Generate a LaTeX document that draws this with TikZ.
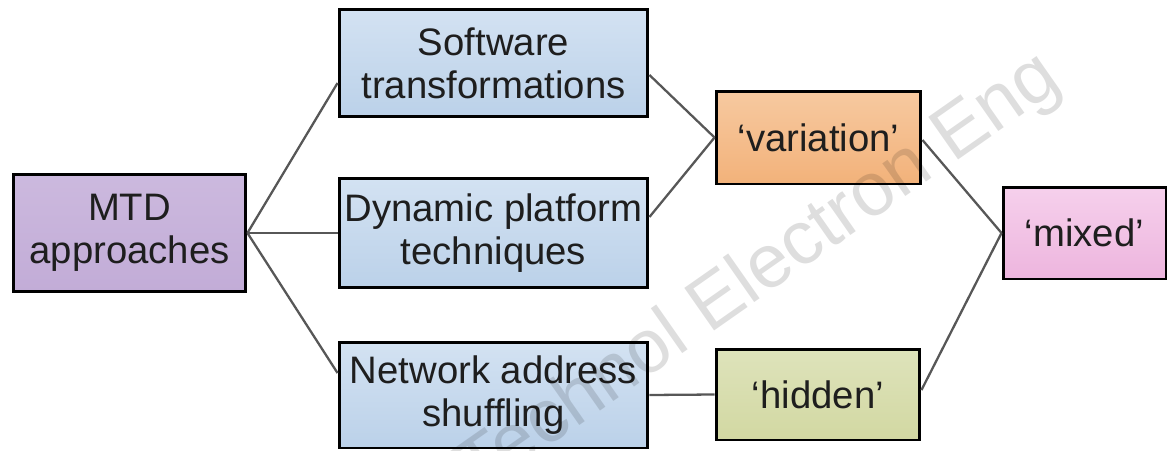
\documentclass[tikz,border=0pt]{standalone}
\usepackage{fontspec}
\setmainfont{Liberation Sans}
\usetikzlibrary{calc}

\definecolor{inkc}{HTML}{1E1E1E}
\definecolor{linkc}{HTML}{575757}
\definecolor{purpleTop}{HTML}{CCB9DE}
\definecolor{purpleBot}{HTML}{C2ACD7}
\definecolor{blueTop}{HTML}{D3E2F2}
\definecolor{blueBot}{HTML}{BBD1E9}
\definecolor{orangeTop}{HTML}{F7C9A0}
\definecolor{orangeBot}{HTML}{F2B27A}
\definecolor{greenTop}{HTML}{DEE3BB}
\definecolor{greenBot}{HTML}{D2D8A2}
\definecolor{pinkTop}{HTML}{F6D0EC}
\definecolor{pinkBot}{HTML}{EDB5DE}

\tikzset{
  box/.style={draw=black, line width=1.7pt, rectangle, inner sep=0pt,
    align=center, text=inkc,
    font=\fontsize{21.8pt}{24.4pt}\selectfont},
  purplebox/.style={box, top color=purpleTop, bottom color=purpleBot},
  bluebox/.style={box, top color=blueTop, bottom color=blueBot},
  orangebox/.style={box, top color=orangeTop, bottom color=orangeBot},
  greenbox/.style={box, top color=greenTop, bottom color=greenBot},
  pinkbox/.style={box, top color=pinkTop, bottom color=pinkBot},
  link/.style={draw=linkc, line width=1.3pt},
}

\begin{document}
\begin{tikzpicture}[x=0.02cm, y=-0.02cm]
  \useasboundingbox (0,0) rectangle (1167,450);

  % boxes
  \node[purplebox, minimum width=4.66cm, minimum height=2.36cm] (mtd) at (129.5,233) {MTD\\approaches};
  \node[bluebox, minimum width=6.18cm, minimum height=2.16cm] (sw) at (493.5,63) {Software\\transformations};
  \node[bluebox, minimum width=6.18cm, minimum height=2.2cm] (dyn) at (493.5,233) {Dynamic platform\\techniques};
  \node[bluebox, minimum width=6.18cm, minimum height=2.12cm] (net) at (493.5,395) {Network address\\shuffling};
  \node[orangebox, minimum width=4.1cm, minimum height=1.86cm] (var) at (818.5,137.5) {`variation'};
  \node[greenbox, minimum width=4.08cm, minimum height=1.82cm] (hid) at (818,394.5) {`hidden'};
  \node[pinkbox, minimum width=3.26cm, minimum height=1.84cm] (mix) at (1084.5,233) {`mixed'};

  % connectors
  \draw[link] (mtd.east) -- ([yshift=-0.4cm]sw.west);
  \draw[link] (mtd.east) -- (dyn.west);
  \draw[link] (mtd.east) -- ([yshift=0.44cm]net.west);
  \draw[link] ([yshift=-0.24cm]sw.east) -- (var.west);
  \draw[link] ([yshift=0.32cm]dyn.east) -- (var.west);
  \draw[link] (net.east) -- (hid.west);
  \draw[link] ([yshift=-0.05cm]var.east) -- (mix.west);
  \draw[link] ([yshift=0.09cm]hid.east) -- (mix.west);

  % journal watermark
  \begin{scope}
    \clip (0,0) rectangle (1167,450);
    \node[text=black, opacity=0.13, rotate=35,
      font=\fontsize{43pt}{43pt}\selectfont] (wm) at (760,275) {Technol Electron Eng};
  \end{scope}
\end{tikzpicture}
\end{document}
